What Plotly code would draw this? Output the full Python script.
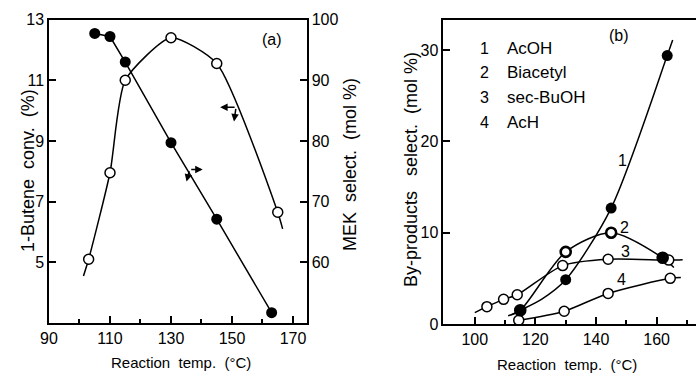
import plotly.graph_objects as go

# ---------------- data: panel (a) ----------------
conv_temp = [103, 110, 115, 130, 145, 165]
conv_val = [5.1, 7.95, 11.0, 12.4, 11.55, 6.65]
conv_curve_temp = [101.3, 103, 110, 115, 130, 145, 165, 166.6]
conv_curve_val = [4.55, 5.1, 7.95, 11.0, 12.4, 11.55, 6.65, 6.1]

mek_temp = [105, 110, 115, 130, 145, 163]
mek_val = [97.7, 97.2, 93.0, 79.7, 67.1, 51.7]

# ---------------- data: panel (b) ----------------
acoh_temp = [115, 130, 145, 163.5]
acoh_val = [1.5, 4.85, 12.7, 29.4]
acoh_curve_temp = [112, 115, 122, 130, 145, 163.5, 165.3]
acoh_curve_val = [1.0, 1.5, 2.7, 4.85, 12.7, 29.4, 31.1]

biac_temp = [115, 130, 145, 162]
biac_val = [1.5, 7.9, 10.0, 7.25]
biac_fill = ["black", "white", "white", "black"]
biac_curve_temp = [111, 115, 130, 145, 162, 165.7]
biac_curve_val = [0.9, 1.5, 7.9, 10.0, 7.25, 6.2]

sbuoh_temp = [104, 109.5, 114, 129, 144, 164]
sbuoh_val = [1.9, 2.7, 3.2, 6.4, 7.1, 7.0]
sbuoh_curve_temp = [100, 104, 109.5, 114, 129, 144, 164, 168.6]
sbuoh_curve_val = [1.25, 1.9, 2.7, 3.2, 6.4, 7.1, 7.0, 7.05]

ach_temp = [114.5, 129.5, 144, 164.5]
ach_val = [0.4, 1.4, 3.35, 5.0]
ach_curve_temp = [114.5, 129.5, 144, 164.5, 168]
ach_curve_val = [0.4, 1.4, 3.35, 5.0, 5.1]

legend_nums = ["1", "2", "3", "4"]
legend_names = ["AcOH", "Biacetyl", "sec-BuOH", "AcH"]

left_x_ticks = [90, 110, 130, 150, 170]
left_x_minor = [100, 120, 140, 160]
left_y_ticks = [5, 7, 9, 11, 13]
right_y_ticks = [60, 70, 80, 90, 100]
b_x_ticks = [100, 120, 140, 160]
b_x_minor = [110, 130, 150, 170]
b_y_ticks = [0, 10, 20, 30]

FONT = "Liberation Sans, Arial, sans-serif"
LW = 1.5
BLACK = "black"

fig = go.Figure()

# panel (a) curves
fig.add_trace(go.Scatter(x=conv_curve_temp, y=conv_curve_val, mode="lines",
                         line=dict(color=BLACK, width=LW, shape="spline", smoothing=0.6),
                         xaxis="x", yaxis="y", hoverinfo="skip"))
fig.add_trace(go.Scatter(x=conv_temp, y=conv_val, mode="markers",
                         marker=dict(symbol="circle", size=10, color="white",
                                     line=dict(color=BLACK, width=1.5)),
                         xaxis="x", yaxis="y"))
fig.add_trace(go.Scatter(x=mek_temp, y=mek_val, mode="lines+markers",
                         line=dict(color=BLACK, width=LW),
                         marker=dict(symbol="circle", size=11, color=BLACK),
                         xaxis="x", yaxis="y2"))

# panel (b) curves
for ct, cv in [(acoh_curve_temp, acoh_curve_val), (biac_curve_temp, biac_curve_val),
               (sbuoh_curve_temp, sbuoh_curve_val), (ach_curve_temp, ach_curve_val)]:
    fig.add_trace(go.Scatter(x=ct, y=cv, mode="lines",
                             line=dict(color=BLACK, width=LW, shape="spline", smoothing=0.8),
                             xaxis="x2", yaxis="y3", hoverinfo="skip"))

fig.add_trace(go.Scatter(x=sbuoh_temp, y=sbuoh_val, mode="markers",
                         marker=dict(symbol="circle", size=10, color="white",
                                     line=dict(color=BLACK, width=1.5)),
                         xaxis="x2", yaxis="y3"))
fig.add_trace(go.Scatter(x=ach_temp, y=ach_val, mode="markers",
                         marker=dict(symbol="circle", size=10, color="white",
                                     line=dict(color=BLACK, width=1.5)),
                         xaxis="x2", yaxis="y3"))
fig.add_trace(go.Scatter(x=biac_temp, y=biac_val, mode="markers",
                         marker=dict(symbol="circle", size=10, color=biac_fill,
                                     line=dict(color=BLACK, width=2.6)),
                         xaxis="x2", yaxis="y3"))
fig.add_trace(go.Scatter(x=acoh_temp, y=acoh_val, mode="markers",
                         marker=dict(symbol="circle", size=11, color=BLACK),
                         xaxis="x2", yaxis="y3"))

tickfont = dict(family=FONT, size=16, color=BLACK)
common = dict(showgrid=False, zeroline=False, showline=True, linecolor=BLACK,
              linewidth=LW, ticks="inside", tickcolor=BLACK, tickwidth=LW,
              ticklen=7, tickfont=tickfont, fixedrange=True, automargin=False)

fig.update_layout(
    width=696, height=379,
    margin=dict(l=0, r=0, t=0, b=0, pad=0, autoexpand=False),
    paper_bgcolor="white", plot_bgcolor="white",
    showlegend=False,
    font=dict(family=FONT, color=BLACK),
    xaxis=dict(domain=[0.0704, 0.4407], range=[90, 174.5], anchor="y",
               tickmode="array", tickvals=left_x_ticks, mirror=True,
               minor=dict(tickmode="array", tickvals=left_x_minor, ticks="inside",
                          ticklen=4, tickwidth=LW, tickcolor=BLACK),
               **common),
    yaxis=dict(domain=[0.1478, 0.9485], range=[3, 13], anchor="x",
               tickmode="array", tickvals=left_y_ticks, **common),
    yaxis2=dict(domain=[0.1478, 0.9485], range=[50, 100], anchor="x",
                overlaying="y", side="right",
                tickmode="array", tickvals=right_y_ticks, **common),
    xaxis2=dict(domain=[0.6369, 1.0], range=[89.6, 173], anchor="y3",
                tickmode="array", tickvals=b_x_ticks, mirror=True,
                minor=dict(tickmode="array", tickvals=b_x_minor, ticks="inside",
                           ticklen=4, tickwidth=LW, tickcolor=BLACK),
                **common),
    yaxis3=dict(domain=[0.1451, 0.9472], range=[0, 33.3], anchor="x2",
                tickmode="array", tickvals=b_y_ticks, **common),
)

NB = "\u00a0"
title_font = dict(family=FONT, size=15, color=BLACK)
ytitle_font = dict(family=FONT, size=18, color=BLACK)
ann = []
# axis titles
xt = "Reaction" + NB * 2 + "temp." + NB * 2 + "(°C)"
ann.append(dict(text=xt, x=181 / 696, y=1 - 362 / 379, xref="paper", yref="paper",
                showarrow=False, font=title_font, xanchor="center", yanchor="middle"))
ann.append(dict(text=xt, x=567 / 696, y=1 - 364 / 379, xref="paper", yref="paper",
                showarrow=False, font=title_font, xanchor="center", yanchor="middle"))
ann.append(dict(text="1-Butene" + NB * 2 + "conv." + NB * 2 + "(%)", x=16 / 696,
                y=1 - 171 / 379, xref="paper", yref="paper", textangle=-90,
                showarrow=False, font=ytitle_font))
ann.append(dict(text="MEK" + NB * 2 + "select." + NB * 2 + "(mol" + NB + "%)", x=350 / 696,
                y=1 - 165 / 379, xref="paper", yref="paper", textangle=-90,
                showarrow=False, font=ytitle_font))
ann.append(dict(text="By-products" + NB * 3 + "select." + NB * 2 + "(mol" + NB + "%)",
                x=411 / 696, y=1 - 170 / 379, xref="paper", yref="paper", textangle=-90,
                showarrow=False, font=ytitle_font))
# panel labels
ann.append(dict(text="(a)", x=163.1, y=12.33, xref="x", yref="y", showarrow=False,
                font=dict(family=FONT, size=16, color=BLACK)))
ann.append(dict(text="(b)", x=147.7, y=31.6, xref="x2", yref="y3", showarrow=False,
                font=dict(family=FONT, size=16, color=BLACK)))
# legend block
leg_y = [30.2, 27.56, 24.84, 22.05]
for n, name, yy in zip(legend_nums, legend_names, leg_y):
    ann.append(dict(text=n, x=103.3, y=yy, xref="x2", yref="y3", showarrow=False,
                    xanchor="center", font=dict(family=FONT, size=16, color=BLACK)))
    ann.append(dict(text=name, x=109.9, y=yy, xref="x2", yref="y3", showarrow=False,
                    xanchor="left", font=dict(family=FONT, size=17, color=BLACK)))
# curve numbers
for n, xx, yy in zip(legend_nums, [148.6, 149.5, 149.7, 148.5], [17.9, 10.6, 7.9, 4.9]):
    ann.append(dict(text=n, x=xx, y=yy, xref="x2", yref="y3", showarrow=False,
                    font=dict(family=FONT, size=16, color=BLACK)))
# axis-pointer arrows
arrow = dict(showarrow=True, arrowhead=2, arrowsize=1, arrowwidth=1.5, arrowcolor=BLACK,
             text="", axref="pixel", ayref="pixel")
ann.append(dict(x=140.4, y=75.3, xref="x", yref="y2", ax=-13, ay=0, **arrow))
ann.append(dict(x=135.1, y=73.3, xref="x", yref="y2", ax=3, ay=-12, **arrow))
ann.append(dict(x=146.1, y=10.11, xref="x", yref="y", ax=16, ay=0, **arrow))
ann.append(dict(x=150.66, y=9.64, xref="x", yref="y", ax=2, ay=-14, **arrow))

fig.update_layout(annotations=ann)
fig.write_html("out.html", config={"responsive": False, "displayModeBar": False},
               post_script="document.body.style.margin='0';document.body.style.overflow='hidden';")
